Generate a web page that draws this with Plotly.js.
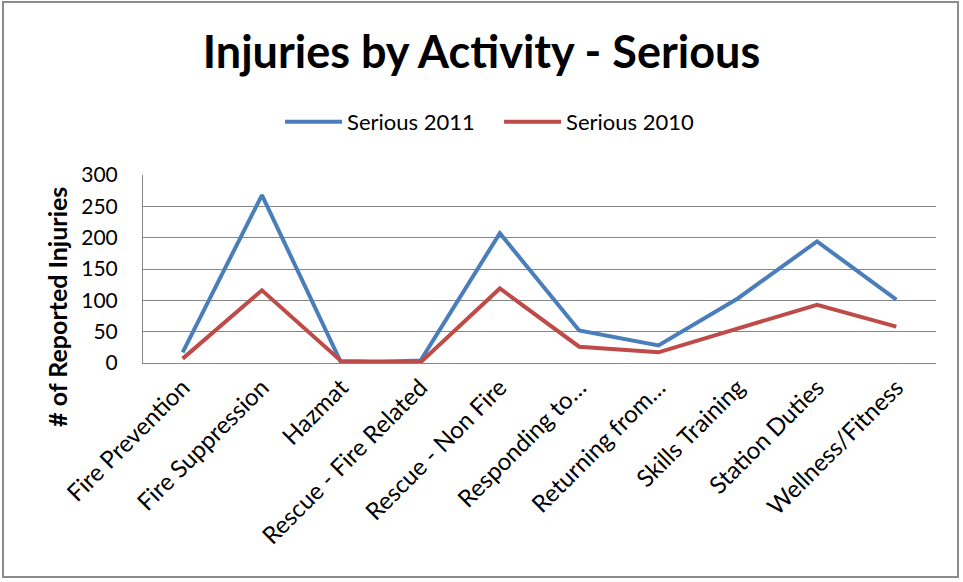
<!DOCTYPE html>
<html>
<head>
<meta charset="utf-8">
<script src="https://cdn.plot.ly/plotly-3.0.1.min.js"></script>
<style>
html,body{margin:0;padding:0;background:#fff;}
#frame{position:absolute;left:2px;top:1px;width:957px;height:577px;border:2px solid #8c8c8c;box-sizing:border-box;}
#chart{position:absolute;left:0;top:0;width:963px;height:582px;}
</style>
</head>
<body>
<div id="chart"></div>
<div id="frame"></div>
<script>
const categories = ["Fire Prevention","Fire Suppression","Hazmat","Rescue - Fire Related","Rescue - Non Fire","Responding to…","Returning from…","Skills Training","Station Duties","Wellness/Fitness"];
const serious2011 = [17, 268, 0, 4, 207, 52, 28, 103, 194, 101];
const serious2010 = [7, 116, 3, 1, 119, 26, 17, 55, 93, 58];
const yTicks = [0, 50, 100, 150, 200, 250, 300];

const font = "Lato, 'Open Sans', 'Liberation Sans', sans-serif";

const traces = [
  {x: categories, y: serious2011, name: "Serious 2011", type: "scatter", mode: "lines",
   line: {color: "#4A7EBB", width: 4}},
  {x: categories, y: serious2010, name: "Serious 2010", type: "scatter", mode: "lines",
   line: {color: "#BE4B48", width: 4}}
];

const layout = {
  width: 963, height: 582,
  margin: {l: 143, r: 27, t: 175, b: 219},
  paper_bgcolor: "#fff", plot_bgcolor: "#fff",
  font: {family: font, color: "#000"},
  title: {text: "<b>Injuries by Activity - Serious</b>", font: {size: 45, family: font, color: "#000"},
          x: 0.5, xanchor: "center", y: 0.91, yanchor: "middle"},
  showlegend: true,
  legend: {orientation: "h", x: 0.449, xanchor: "center", y: 1.282, yanchor: "middle",
           font: {size: 22, family: font}, itemwidth: 57, entrywidth: 147, entrywidthmode: "pixels"},
  xaxis: {type: "category", tickangle: -45, tickfont: {size: 24, family: font},
          showgrid: false, showline: true, linecolor: "#868686", linewidth: 1,
          ticks: "", range: [-0.5, 9.5], automargin: false},
  yaxis: {range: [0, 300], tickvals: yTicks, ticktext: yTicks.map(String),
          tickfont: {size: 21, family: font}, showgrid: true, gridcolor: "#868686", gridwidth: 1,
          showline: true, linecolor: "#868686", linewidth: 1, zeroline: false,
          ticks: "outside", ticklen: 20, tickcolor: "rgba(0,0,0,0)", automargin: false},
  annotations: [{text: "<b># of Reported Injuries</b>", xref: "paper", yref: "paper",
                 x: -0.1085, y: 0.298, xanchor: "center", yanchor: "middle", textangle: -90,
                 showarrow: false, font: {size: 25, family: font, color: "#000"}}]
};

Plotly.newPlot("chart", traces, layout, {displayModeBar: false, staticPlot: true});
</script>
</body>
</html>
